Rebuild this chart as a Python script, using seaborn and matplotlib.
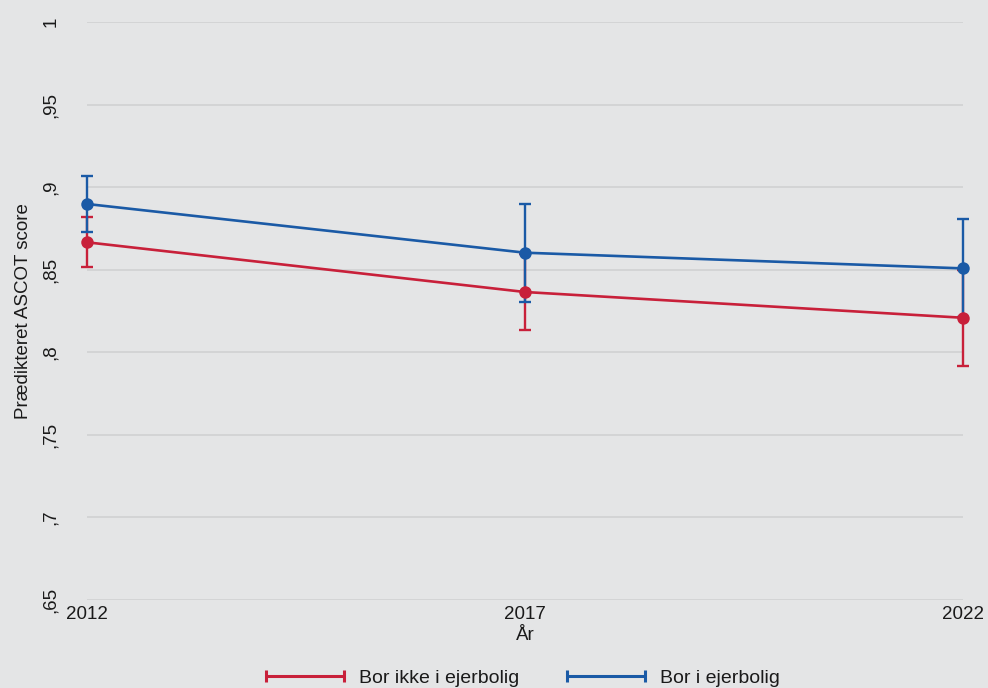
import matplotlib
matplotlib.use("Agg")
import matplotlib.pyplot as plt
from matplotlib.lines import Line2D
import numpy as np
import pandas as pd
import seaborn as sns

# Predicted ASCOT scores with 95% confidence intervals by year and housing status
years = [2012, 2017, 2022]
groups = ["Bor ikke i ejerbolig", "Bor i ejerbolig"]
pred_not_owner = [0.8666, 0.8365, 0.8209]
lo_not_owner = [0.8514, 0.8134, 0.7918]
hi_not_owner = [0.8818, 0.8596, 0.8500]
pred_owner = [0.8898, 0.8603, 0.8508]
lo_owner = [0.8727, 0.8306, 0.8211]
hi_owner = [0.9067, 0.8896, 0.8805]

y_ticks = [0.65, 0.70, 0.75, 0.80, 0.85, 0.90, 0.95, 1.00]
y_tick_labels = [",65", ",7", ",75", ",8", ",85", ",9", ",95", "1"]

colors = {"Bor ikke i ejerbolig": "#C8203A", "Bor i ejerbolig": "#1A5AA6"}
bg = "#E4E5E6"

df = pd.DataFrame({
    "year": years * 2,
    "pred": pred_not_owner + pred_owner,
    "lo": lo_not_owner + lo_owner,
    "hi": hi_not_owner + hi_owner,
    "group": [groups[0]] * 3 + [groups[1]] * 3,
})

sns.set_theme(style="white")
plt.rcParams["font.family"] = ["Liberation Sans", "DejaVu Sans"]

fig = plt.figure(figsize=(9.88, 6.88), dpi=100, facecolor=bg)
ax = fig.add_axes([87 / 988, 1 - 600 / 688, (963 - 87) / 988, (600 - 22) / 688])
ax.set_facecolor(bg)

# confidence interval caps
for g in groups:
    sub = df[df["group"] == g]
    eb = ax.errorbar(sub["year"], sub["pred"],
                     yerr=[sub["pred"] - sub["lo"], sub["hi"] - sub["pred"]],
                     fmt="none", ecolor=colors[g], elinewidth=1.7,
                     capsize=4, capthick=1.7, zorder=3)
    for art in eb.lines[1] + eb.lines[2]:
        art.set_clip_on(False)

# connected point estimates
sns.lineplot(data=df, x="year", y="pred", hue="group", hue_order=groups,
             palette=colors, marker="o", markersize=9, markeredgewidth=0,
             linewidth=1.9, legend=False, ax=ax, zorder=4)
for ln in ax.lines:
    ln.set_clip_on(False)

ax.set_xlim(2012, 2022)
ax.set_ylim(0.65, 1.0)
ax.set_xticks(years)
ax.set_xticklabels([str(y) for y in years], fontsize=13.5, color="#1a1a1a")
ax.set_yticks(y_ticks)
ax.set_yticklabels(y_tick_labels, rotation=90, va="center", fontsize=13.5,
                   color="#1a1a1a")
ax.tick_params(axis="both", length=0)
ax.tick_params(axis="y", pad=20)
ax.tick_params(axis="x", pad=4)
ax.grid(axis="y", color="#D0D1D2", linewidth=1.2)
ax.grid(axis="x", visible=False)
ax.set_axisbelow(True)
for s in ax.spines.values():
    s.set_visible(False)

ax.set_xlabel("År", fontsize=13.5, color="#1a1a1a", labelpad=3)
ax.set_ylabel("Prædikteret ASCOT score", fontsize=13.5, color="#1a1a1a")
ax.yaxis.set_label_coords(-55 / 876, 0.5)

handles = [Line2D([0], [0], color=colors[g], linewidth=2.2, marker="|",
                  markersize=9, markeredgewidth=2.2) for g in groups]
fig.legend(handles, groups, loc="center",
           bbox_to_anchor=(520 / 988, 1 - 678 / 688),
           ncol=2, frameon=False, fontsize=14, handlelength=4.6,
           numpoints=2, columnspacing=2.2, handletextpad=0.47,
           labelcolor="#1a1a1a")

fig.savefig("out.png", dpi=100, facecolor=bg)
